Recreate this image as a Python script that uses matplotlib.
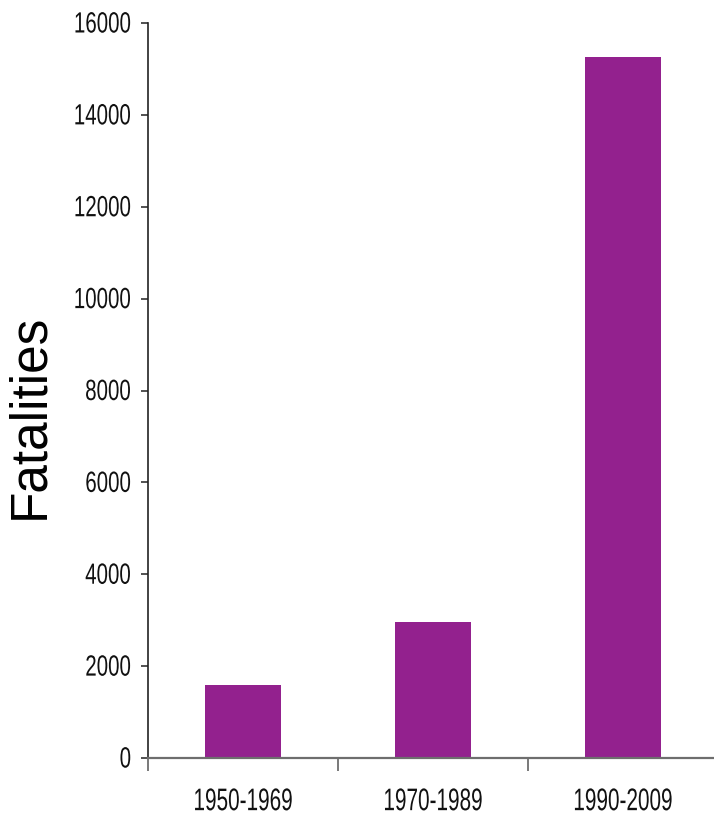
import matplotlib
matplotlib.use("Agg")
import matplotlib.pyplot as plt
from matplotlib.patheffects import AbstractPathEffect
from matplotlib.transforms import Affine2D
from matplotlib.ticker import FixedLocator, NullFormatter

periods = ["1950-1969", "1970-1989", "1990-2009"]
fatalities = [1590, 2970, 15270]
y_ticks = [0, 2000, 4000, 6000, 8000, 10000, 12000, 14000, 16000]

BAR_COLOR = "#93218E"


class NarrowTall(AbstractPathEffect):
    """Squeeze glyphs horizontally and stretch them vertically.

    The horizontal scaling is done about the right edge or the centre of the
    string (matching its alignment); the vertical one about the baseline.
    ``dy`` shifts the drawn glyphs by that many pixels (positive = down).
    """

    def __init__(self, sx, sy, anchor="center", dy=0.0):
        super().__init__()
        self.sx = sx
        self.sy = sy
        self.anchor = anchor
        self.dy = dy

    def draw_path(self, renderer, gc, tpath, affine, rgbFace=None):
        m = affine.get_matrix()
        y0 = m[1, 2]
        ext = affine.transform_path(tpath).get_extents()
        if self.anchor == "right":
            x0 = ext.x1
        else:
            x0 = 0.5 * (ext.x0 + ext.x1)
        t = affine + (Affine2D().translate(-x0, -y0)
                      .scale(self.sx, self.sy).translate(x0, y0 - self.dy))
        renderer.draw_path(gc, tpath, t, rgbFace)


sans = ["Liberation Sans", "DejaVu Sans"]

fig = plt.figure(figsize=(7.14, 8.18), dpi=100)
W, H = 714, 818
left_px, right_px, top_px, bottom_px = 148, 718, 23, 758
ax = fig.add_axes([left_px / W, (H - bottom_px) / H,
                   (right_px - left_px) / W, (bottom_px - top_px) / H])

x = list(range(len(periods)))
ax.bar(x, fatalities, width=0.40, color=BAR_COLOR, edgecolor="none", zorder=2)

ax.set_xlim(-0.5, 2.5)
ax.set_ylim(0, 16000)

for side in ("top", "right"):
    ax.spines[side].set_visible(False)
ax.spines["left"].set_color("#222222")
ax.spines["left"].set_linewidth(1.2)
ax.spines["bottom"].set_color("#6e6e6e")
ax.spines["bottom"].set_linewidth(1.6)
ax.spines["bottom"].set_zorder(3)

ax.set_yticks(y_ticks)
ax.set_yticklabels([str(v) for v in y_ticks])
ax.tick_params(axis="y", direction="out", length=5, width=1.1, color="#222222",
               pad=7, labelsize=18, labelcolor="#111111")

ax.set_xticks(x)
ax.set_xticklabels(periods)
ax.tick_params(axis="x", which="major", length=0, pad=21, labelsize=18,
               labelcolor="#111111")
ax.xaxis.set_minor_locator(FixedLocator([-0.5, 0.5, 1.5, 2.5]))
ax.xaxis.set_minor_formatter(NullFormatter())
ax.tick_params(axis="x", which="minor", direction="out", length=9, width=1.1,
               color="#555555")

for lbl in ax.get_yticklabels():
    lbl.set_family(sans)
    lbl.set_path_effects([NarrowTall(0.82, 1.17, anchor="right")])
for lbl in ax.get_xticklabels():
    lbl.set_family(sans)
    lbl.set_path_effects([NarrowTall(0.83, 1.25, anchor="center", dy=4)])

fig.text(30 / W, 1 - 416 / H, "Fatalities", rotation=90, ha="center", va="center",
         fontsize=37, family=sans, color="#000000")

fig.savefig("out.png", dpi=100)
